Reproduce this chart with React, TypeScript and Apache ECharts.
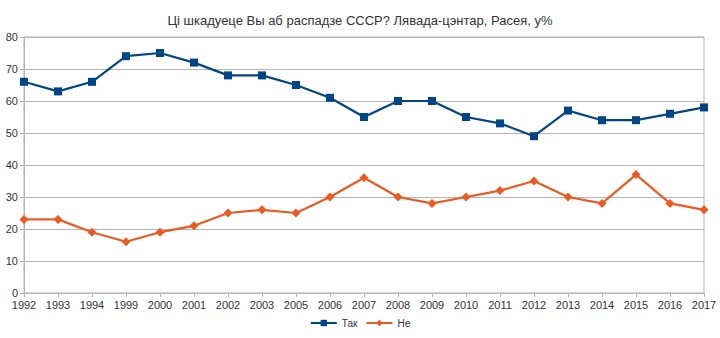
import React, { useEffect, useRef } from "react";
import * as echarts from "echarts";

const years = ["1992","1993","1994","1999","2000","2001","2002","2003","2005","2006","2007","2008","2009","2010","2011","2012","2013","2014","2015","2016","2017"];
const tak = [66,63,66,74,75,72,68,68,65,61,55,60,60,55,53,49,57,54,54,56,58];
const ne = [23,23,19,16,19,21,25,26,25,30,36,30,28,30,32,35,30,28,37,28,26];
const titleText = "Ці шкадуеце Вы аб распадзе СССР? Лявада-цэнтар, Расея, у%";

export default function App() {
  const ref = useRef<HTMLDivElement>(null);
  useEffect(() => {
    const chart = echarts.init(ref.current!, null, { renderer: "svg" });
    const font = "Liberation Sans";
    chart.setOption({
      animation: false,
      backgroundColor: "#ffffff",
      textStyle: { fontFamily: font },
      title: {
        text: titleText,
        left: "center",
        top: 9,
        textStyle: { fontSize: 13, fontWeight: "normal", color: "#333", fontFamily: "'Liberation Sans Narrow', 'Liberation Sans'" },
      },
      legend: {
        bottom: 5,
        left: "center",
        itemWidth: 26,
        itemHeight: 8,
        itemGap: 8,
        textStyle: { fontSize: 10, color: "#333", fontFamily: font },
        data: ["Так", "Не"],
      },
      grid: {
        left: 24,
        right: 16,
        top: 37,
        bottom: 45,
        show: true,
        borderColor: "#b3b3b3",
        borderWidth: 1,
      },
      xAxis: {
        type: "category",
        data: years,
        boundaryGap: false,
        axisLine: { lineStyle: { color: "#b3b3b3" } },
        axisTick: { show: true, alignWithLabel: true, length: 4, lineStyle: { color: "#b3b3b3" } },
        axisLabel: { color: "#333", fontSize: 11, margin: 6, fontFamily: font },
        splitLine: { show: false },
      },
      yAxis: {
        type: "value",
        min: 0,
        max: 80,
        interval: 10,
        axisLine: { show: true, lineStyle: { color: "#b3b3b3" } },
        axisTick: { show: true, length: 4, lineStyle: { color: "#b3b3b3" } },
        axisLabel: { color: "#333", fontSize: 11, margin: 6, fontFamily: font },
        splitLine: { show: true, lineStyle: { color: "#b3b3b3", width: 1 } },
      },
      series: [
        {
          name: "Так",
          type: "line",
          data: tak,
          symbol: "rect",
          symbolSize: 8,
          lineStyle: { color: "#004586", width: 2.2 },
          itemStyle: { color: "#004586" },
        },
        {
          name: "Не",
          type: "line",
          data: ne,
          symbol: "diamond",
          symbolSize: 9,
          lineStyle: { color: "#ec5a24", width: 2.2 },
          itemStyle: { color: "#ec5a24" },
        },
      ],
    });
    return () => chart.dispose();
  }, []);
  return <div ref={ref} style={{ width: 720, height: 338, position: "absolute", left: 0, top: 0 }} />;
}
